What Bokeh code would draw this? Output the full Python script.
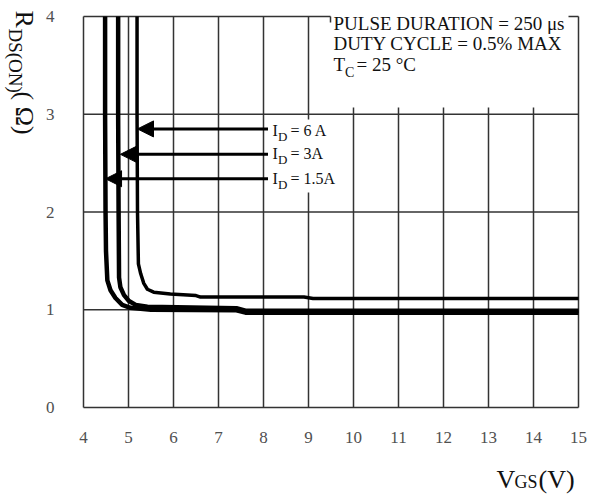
import math
from bokeh.plotting import figure
from bokeh.models import Range1d, Label, Arrow, NormalHead
from bokeh.core.properties import value
from bokeh.embed import file_html
from bokeh.resources import INLINE

# ---------------- data ----------------
x_ticks = [4, 5, 6, 7, 8, 9, 10, 11, 12, 13, 14, 15]
y_ticks = [0, 1, 2, 3, 4]
x_tick_labels = [str(v) for v in x_ticks]
y_tick_labels = [str(v) for v in y_ticks]

# R_DS(on) vs V_GS, I_D = 6 A
vgs_6a = [5.19, 5.19, 5.20, 5.22, 5.27, 5.34, 5.42, 5.56, 5.93, 6.50, 6.60, 8.90, 9.10, 15.0]
rds_6a = [4.00, 3.00, 2.00, 1.47, 1.37, 1.27, 1.21, 1.18, 1.16, 1.145, 1.13, 1.13, 1.115, 1.115]
# I_D = 3 A
vgs_3a = [4.77, 4.77, 4.78, 4.79, 4.82, 4.90, 5.01, 5.16, 5.42, 7.40, 7.60, 15.0]
rds_3a = [4.00, 3.00, 2.00, 1.33, 1.23, 1.15, 1.09, 1.05, 1.03, 1.015, 0.99, 0.99]
# I_D = 1.5 A
vgs_15a = [4.48, 4.48, 4.49, 4.50, 4.53, 4.60, 4.71, 4.86, 5.04, 5.50, 7.40, 7.60, 15.0]
rds_15a = [4.00, 3.00, 2.00, 1.60, 1.30, 1.20, 1.12, 1.05, 1.02, 1.00, 0.995, 0.97, 0.97]

current_labels = ["6 A", "3A", "1.5A"]
arrow_y = [2.85, 2.59, 2.34]          # R_DS level where each arrow points
arrow_tip_vgs = [5.20, 4.82, 4.49]    # V_GS where arrow meets its curve
arrow_tail_vgs = 8.10

cond_lines = ["PULSE DURATION = 250 \u03bcs", "DUTY CYCLE = 0.5% MAX"]

# ---------------- layout ----------------
W, H = 603, 497
L, R, T, B = 83, 578, 16, 407       # plot-area box in page pixels
X0, X1, Y0, Y1 = 4, 15, 0, 4
MID = 0.34                          # baseline -> middle of em box, in em


def dx(px):
    return X0 + (px - L) * (X1 - X0) / (R - L)


def dy(py):
    return Y0 + (B - py) * (Y1 - Y0) / (B - T)


# the frame spans the whole canvas so that titles outside the box are not clipped
p = figure(width=W, height=H, x_range=Range1d(dx(0), dx(W)), y_range=Range1d(dy(H), dy(0)),
           output_backend="svg", toolbar_location=None,
           x_axis_location=None, y_axis_location=None,
           min_border=0, min_border_left=0, min_border_right=0,
           min_border_top=0, min_border_bottom=0)
p.outline_line_color = None
p.xgrid.visible = False
p.ygrid.visible = False
p.background_fill_color = "white"
p.border_fill_color = "white"

SERIF = "Liberation Serif"
INK = "#111111"


def htext(px, base, txt, size):
    """horizontal text whose left edge is px and alphabetic baseline is base (page px)"""
    p.add_layout(Label(x=dx(px), y=dy(base - MID * size), text=txt, text_font=SERIF,
                       text_font_size=f"{size}px", text_color=INK,
                       text_align="left", text_baseline="middle"))


def vtext(base, py, txt, size):
    """text rotated clockwise; baseline at page x=base, starting at page y=py"""
    p.add_layout(Label(x=dx(base + MID * size), y=dy(py), text=txt, angle=-math.pi / 2,
                       text_font=SERIF, text_font_size=f"{size}px", text_color=INK,
                       text_align="left", text_baseline="middle"))


# ---------------- tick labels ----------------
p.text(x=x_ticks, y=[dy(437)] * len(x_ticks), text=x_tick_labels,
       text_font=value(SERIF), text_font_size="17px", text_color="#505050",
       text_align="center", text_baseline="middle")
p.text(x=[dx(54)] * len(y_ticks), y=y_ticks, text=y_tick_labels,
       text_font=value(SERIF), text_font_size="17px", text_color="#505050",
       text_align="right", text_baseline="middle")

# ---------------- grid / frame ----------------
GC, GW = "#333333", 1.5
box_bottom = dy(107)      # gridlines stop below the conditions text
gx0, gy0, gx1, gy1 = [], [], [], []
for xv in x_ticks:
    if xv in (X0, X1) or xv <= 8:
        gx0 += [xv]; gy0 += [Y0]; gx1 += [xv]; gy1 += [Y1]
    elif xv == 9:
        gx0 += [xv, xv]; gy0 += [Y0, dy(119)]; gx1 += [xv, xv]; gy1 += [dy(192), Y1]
    else:
        gx0 += [xv]; gy0 += [Y0]; gx1 += [xv]; gy1 += [box_bottom]
for yv in y_ticks:
    if yv < Y1:
        gx0 += [X0]; gy0 += [yv]; gx1 += [X1]; gy1 += [yv]
    else:
        gx0 += [X0, dx(330), dx(568)]; gy0 += [yv, yv, yv]
        gx1 += [dx(330), dx(330), X1]; gy1 += [yv, dy(22), yv]
p.segment(gx0, gy0, gx1, gy1, line_color=GC, line_width=GW)

# ---------------- curves ----------------
p.line(vgs_15a, rds_15a, line_color="black", line_width=4.5, line_join="round")
p.line(vgs_3a, rds_3a, line_color="black", line_width=4.5, line_join="round")
p.line(vgs_6a, rds_6a, line_color="black", line_width=3.5, line_join="round")

# ---------------- arrows + current labels ----------------
label_baselines = [135, 158, 183]
for lab, ay, tip, base in zip(current_labels, arrow_y, arrow_tip_vgs, label_baselines):
    p.add_layout(Arrow(end=NormalHead(size=16, fill_color="black", line_color="black", line_width=1),
                       x_start=arrow_tail_vgs, y_start=ay, x_end=tip, y_end=ay,
                       line_color="black", line_width=3))
    htext(272, base, "I", 16)
    htext(277.5, base + 5, "D", 13)
    htext(290, base, "= " + lab, 16)

# ---------------- test conditions ----------------
for txt, base in zip(cond_lines, [29, 49.5]):
    htext(333, base, txt, 19)
htext(333, 70, "T", 19)
htext(344.5, 77, "C", 14)
htext(356, 70, "= 25 \u00b0C", 19)

# ---------------- axis titles ----------------
htext(496, 488, "V", 26)
htext(514, 488, "GS", 18)
htext(538, 488, "(V)", 26)

vtext(15, 10, "R", 26)
vtext(9, 28, "DS(ON)", 19)
vtext(15, 91, "( \u03a9)", 26)

open("out.html", "w").write(file_html(p, INLINE))
